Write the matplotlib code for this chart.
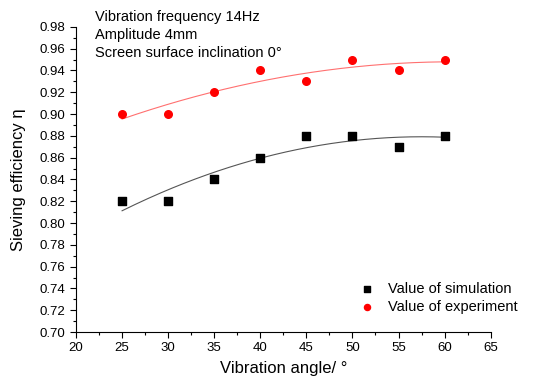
import numpy as np
import matplotlib.pyplot as plt
from matplotlib.ticker import MultipleLocator

plt.rcParams['font.family'] = ['Liberation Sans', 'DejaVu Sans']

# data
angle = [25, 30, 35, 40, 45, 50, 55, 60]
simulation = [0.82, 0.82, 0.84, 0.86, 0.88, 0.88, 0.87, 0.88]
experiment = [0.90, 0.90, 0.92, 0.94, 0.93, 0.95, 0.94, 0.95]

fig = plt.figure(figsize=(5.33, 3.80), dpi=100)
ax = fig.add_axes([0.1426, 0.1263, 0.778, 0.803])

# quadratic fits
xs = np.linspace(25, 60, 200)
p_sim = np.polyfit(angle, simulation, 2)
p_exp = np.polyfit(angle, experiment, 2)
ax.plot(xs, np.polyval(p_sim, xs), color='#555555', lw=0.8)
ax.plot(xs, np.polyval(p_exp, xs), color='#ff7070', lw=0.8)

ax.scatter(angle, simulation, marker='s', s=30, color='black', label='Value of simulation', zorder=3)
ax.scatter(angle, experiment, marker='o', s=30, color='red', label='Value of experiment', zorder=3)

ax.set_xlim(20, 65)
ax.set_ylim(0.70, 0.98)
ax.xaxis.set_major_locator(MultipleLocator(5))
ax.xaxis.set_minor_locator(MultipleLocator(2.5))
ax.yaxis.set_major_locator(MultipleLocator(0.02))
ax.yaxis.set_minor_locator(MultipleLocator(0.01))
ax.yaxis.set_major_formatter(plt.FormatStrFormatter('%.2f'))
ax.tick_params(which='major', direction='out', length=4, width=0.8, labelsize=9.5)
ax.tick_params(which='minor', direction='out', length=2.5, width=0.8)
ax.spines['top'].set_visible(False)
ax.spines['right'].set_visible(False)

ax.set_xlabel('Vibration angle/ °', fontsize=12, labelpad=5)
ax.set_ylabel('Sieving efficiency η', fontsize=12)
ax.yaxis.set_label_coords(-0.12, 0.5)

ax.text(0.045, 1.055, 'Vibration frequency 14Hz\nAmplitude 4mm\nScreen surface inclination 0°',
        transform=ax.transAxes, va='top', ha='left', fontsize=10.5, linespacing=1.37)

ax.legend(loc='lower right', frameon=False, fontsize=10.5, handletextpad=0.5,
          borderaxespad=0.0, bbox_to_anchor=(1.08, 0.04), markerscale=0.8,
          labelspacing=0.3)

fig.savefig('out.png', dpi=100)
